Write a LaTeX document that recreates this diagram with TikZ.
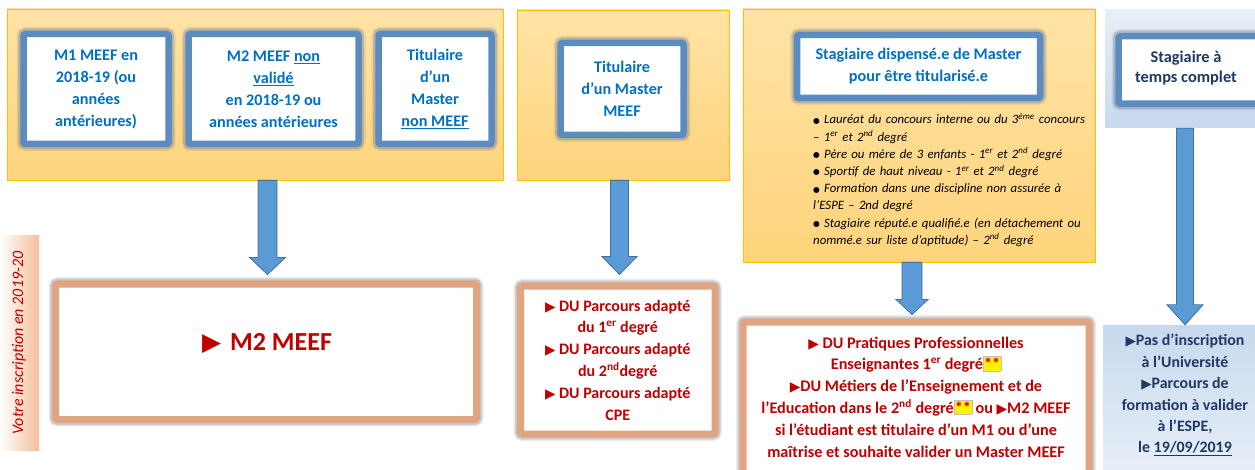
\documentclass[tikz,border=0pt]{standalone}
\usepackage{fontspec}
\usepackage{graphicx}
\setmainfont{Carlito}
\newfontfamily\symf{DejaVu Sans}
\usetikzlibrary{calc}
\definecolor{yelT}{HTML}{FFE3A6}
\definecolor{yelB}{HTML}{FFD47C}
\definecolor{yelD}{HTML}{FFC000}
\definecolor{btext}{HTML}{0070C0}
\definecolor{frameblue}{HTML}{5B8BBF}
\definecolor{glowblue}{HTML}{6E7F95}
\definecolor{arrfill}{HTML}{5B9BD5}
\definecolor{arrline}{HTML}{41719C}
\definecolor{frameor}{HTML}{DFA583}
\definecolor{glowgray}{HTML}{8A8A8A}
\definecolor{rtext}{HTML}{C00000}
\definecolor{navy}{HTML}{1F3864}
\definecolor{lbT}{HTML}{E8EFF8}
\definecolor{lbB}{HTML}{C7D9EE}
\definecolor{sideor}{HTML}{F5BE99}
\newcommand\tri{\scalebox{0.85}{\symf ▶}}
\newcommand\bul{\raisebox{0.05em}{\scalebox{0.6}{\symf ●}}}
\newcommand\hlstar{{\setlength\fboxsep{0.7pt}\setlength\fboxrule{0.3pt}\fcolorbox{lightgray}{yellow}{\rule{0pt}{0.78em}**}}}
% block arrow: from, to, x, shaft w, head w, head len, tip offset
\newcommand\blockarr[7]{%
  \path[blockarrow] let \p1=(#1.south), \p2=(#2.north) in
    (#3pt-#4pt/2,\y1) -- (#3pt-#4pt/2,\y2+#7pt+#6pt) -- (#3pt-#5pt/2,\y2+#7pt+#6pt)
    -- (#3pt,\y2+#7pt) -- (#3pt+#5pt/2,\y2+#7pt+#6pt) -- (#3pt+#4pt/2,\y2+#7pt+#6pt)
    -- (#3pt+#4pt/2,\y1) -- cycle;}
\tikzset{
  panel/.style={draw=yelD, line width=0.8pt, top color=yelT, bottom color=yelB},
  bluepanel/.style={draw=none, top color=lbT, bottom color=lbB},
  bluebox/.style={draw=frameblue, line width=6.5pt, fill=white, rounded corners=2pt,
    preaction={draw=glowblue, line width=11pt, opacity=0.35},
    preaction={draw=glowblue, line width=14pt, opacity=0.15},
    text=btext, align=center, font=\fontsize{16.2}{22}\selectfont\bfseries},
  orbox/.style={draw=frameor, line width=7pt, fill=white, rounded corners=2pt,
    preaction={draw=glowgray, line width=11pt, opacity=0.35},
    preaction={draw=glowgray, line width=14pt, opacity=0.15},
    text=rtext, align=center, font=\fontsize{16}{21.8}\selectfont\bfseries},
  redtext/.style={text=rtext, align=center, font=\fontsize{16.2}{21.8}\selectfont\bfseries, inner sep=0pt},
  navytext/.style={text=navy, align=center, font=\fontsize{15.9}{21.4}\selectfont\bfseries, inner sep=0pt},
  bullettext/.style={text=black, align=left, text width=300pt, font=\fontsize{12.8}{17.2}\selectfont\itshape, inner sep=0pt},
  blockarrow/.style={fill=arrfill, draw=arrline, line width=0.8pt},
  sidelabel/.style={left color=white, right color=sideor, draw=none}
}
\begin{document}
\begin{tikzpicture}[x=1pt,y=-1pt]
\path[use as bounding box, clip] (0,0) rectangle (1255,470);
\fill[white] (0,0) rectangle (1255,470);

% ---- column 1
\node[panel, minimum width=496pt, minimum height=171pt] (p1) at (255,94.5) {};
\node[bluebox, minimum width=145pt, minimum height=110pt] (bA) at (96,89)
  {M1 MEEF en\\2018-19 (ou\\années\\antérieures)};
\node[bluebox, minimum width=170pt, minimum height=110pt] (bB) at (273.5,89)
  {M2 MEEF \underline{non}\\\underline{validé}\\en 2018-19 ou\\années antérieures};
\node[bluebox, minimum width=113pt, minimum height=110pt] (bC) at (435,89)
  {Titulaire\\d’un\\Master\\\underline{non MEEF}};
\node[orbox, minimum width=421pt, minimum height=135.5pt] (r1) at (266,351.75) {};
\node[redtext, font=\fontsize{26}{28}\selectfont\bfseries] (t1) at (267,343) {\scalebox{0.95}{\symf ▶}\hspace{0.35em}M2 MEEF};
\blockarr{p1}{r1}{267.5}{19}{36}{17}{6}

% ---- column 2
\node[panel, minimum width=212pt, minimum height=170pt] (p2) at (623,95) {};
\node[bluebox, minimum width=123pt, minimum height=92pt] (bD) at (622,89)
  {Titulaire\\d’un Master\\MEEF};
\node[orbox, minimum width=194.5pt, minimum height=148pt] (r2) at (617.75,360)
  {\tri\ DU Parcours adapté\\du 1\textsuperscript{er} degré\\\tri\ DU Parcours adapté\\du 2\textsuperscript{nd}degré\\\tri\ DU Parcours adapté\\CPE};
\blockarr{p2}{r2}{619.5}{18}{35}{18}{8}

% ---- column 3
\node[panel, minimum width=352pt, minimum height=253pt] (p3) at (919,135.5) {};
\node[bluebox, minimum width=243pt, minimum height=63pt] (bE) at (918.5,66.5)
  {Stagiaire dispensé.e de Master\\pour être titularisé.e};
\node[bullettext, anchor=west] (bl) at (813,180)
  {\bul\ Lauréat du concours interne ou du 3\textsuperscript{ème} concours\\
   – 1\textsuperscript{er} et 2\textsuperscript{nd} degré\\
   \bul\ Père ou mère de 3 enfants - 1\textsuperscript{er} et 2\textsuperscript{nd} degré\\
   \bul\ Sportif de haut niveau - 1\textsuperscript{er} et 2\textsuperscript{nd} degré\\
   \bul\ Formation dans une discipline non assurée à\\
   l’ESPE – 2nd degré\\
   \bul\ Stagiaire réputé.e qualifié.e (en détachement ou\\
   nommé.e sur liste d’aptitude) – 2\textsuperscript{nd} degré};
\node[orbox, minimum width=346pt, minimum height=160pt] (r3) at (916,402) {};
\node[redtext] (t3) at (916,397)
  {\tri\ DU Pratiques Professionnelles\\
   Enseignantes 1\textsuperscript{er} degré\hlstar\\
   \tri DU Métiers de l’Enseignement et de\\
   l’Education dans le 2\textsuperscript{nd} degré\hlstar{} ou \tri M2 MEEF\\
   si l’étudiant est titulaire d’un M1 ou d’une\\
   maîtrise et souhaite valider un Master MEEF};
\blockarr{p3}{r3}{912}{20}{32}{15}{4}

% ---- column 4
\node[bluepanel, minimum width=155pt, minimum height=118pt] (p4) at (1182.5,69) {};
\node[bluebox, minimum width=143pt, minimum height=67.5pt] (bF) at (1190,70) {};
\node[navytext, font=\fontsize{16.4}{20}\selectfont\bfseries] (tF) at (1186,68)
  {Stagiaire à\\temps complet};
\node[bluepanel, top color=lbB, bottom color=lbT, minimum width=157pt, minimum height=150pt] (q4) at (1181.5,400) {};
\node[navytext] (t4) at (1185,395)
  {\tri Pas d’inscription\\à l’Université\\\tri Parcours de\\formation à valider\\à l’ESPE,\\le \underline{19/09/2019}};
\blockarr{p4}{q4}{1185}{17}{36}{20}{0}

% ---- side label
\node[sidelabel, minimum width=39pt, minimum height=214pt] (sl) at (19.5,343) {};
\node[rotate=90, text=rtext, font=\fontsize{16}{18}\selectfont\itshape] (slt) at (19,343) {Votre inscription en 2019-20};
\end{tikzpicture}
\end{document}
